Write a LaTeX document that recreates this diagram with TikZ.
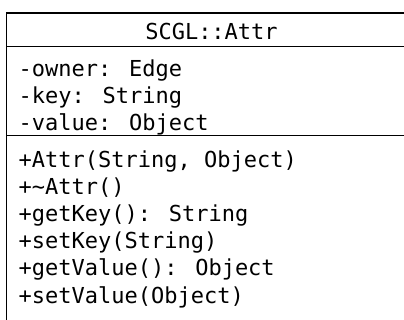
\documentclass[tikz,border=0pt]{standalone}
\usepackage{fontspec}
\newfontfamily\umlfont{DejaVu Sans Mono}

\tikzset{
  classline/.style = {line width=1.8pt, black},
  classtext/.style = {anchor=base west, inner sep=0pt,
                      font=\umlfont\fontsize{22}{27}\selectfont},
  classname/.style = {classtext, anchor=base}
}

\begin{document}
\begin{tikzpicture}[x=1pt, y=-1pt]
  \useasboundingbox (0,0) rectangle (404,320);
  \clip (0,0) rectangle (404,320);

% frame
\coordinate (box nw) at (6.5,13);
\coordinate (box se) at (416.5,340);
\coordinate (sep1 w) at (6.5,46.5);
\coordinate (sep1 e) at (416.5,46.5);
\coordinate (sep2 w) at (6.5,135.5);
\coordinate (sep2 e) at (416.5,135.5);
\draw[classline] (box nw) rectangle (box se);
\draw[classline] (sep1 w) -- (sep1 e);
\draw[classline] (sep2 w) -- (sep2 e);

% name
\node[classname] (name) at (211.5,40) {SCGL::Attr};

% attributes
\node[classtext] (owner) at (18.5,76.5)  {-owner: Edge};
\node[classtext] (key)   at (18.5,103.5) {-key: String};
\node[classtext] (value) at (18.5,130.5) {-value: Object};

% operations
\node[classtext] (ctor)     at (18.5,168) {+Attr(String, Object)};
\node[classtext] (dtor)     at (18.5,195) {+\textasciitilde Attr()};
\node[classtext] (getkey)   at (18.5,222) {+getKey(): String};
\node[classtext] (setkey)   at (18.5,249) {+setKey(String)};
\node[classtext] (getvalue) at (18.5,276) {+getValue(): Object};
\node[classtext] (setvalue) at (18.5,303) {+setValue(Object)};

\end{tikzpicture}
\end{document}
